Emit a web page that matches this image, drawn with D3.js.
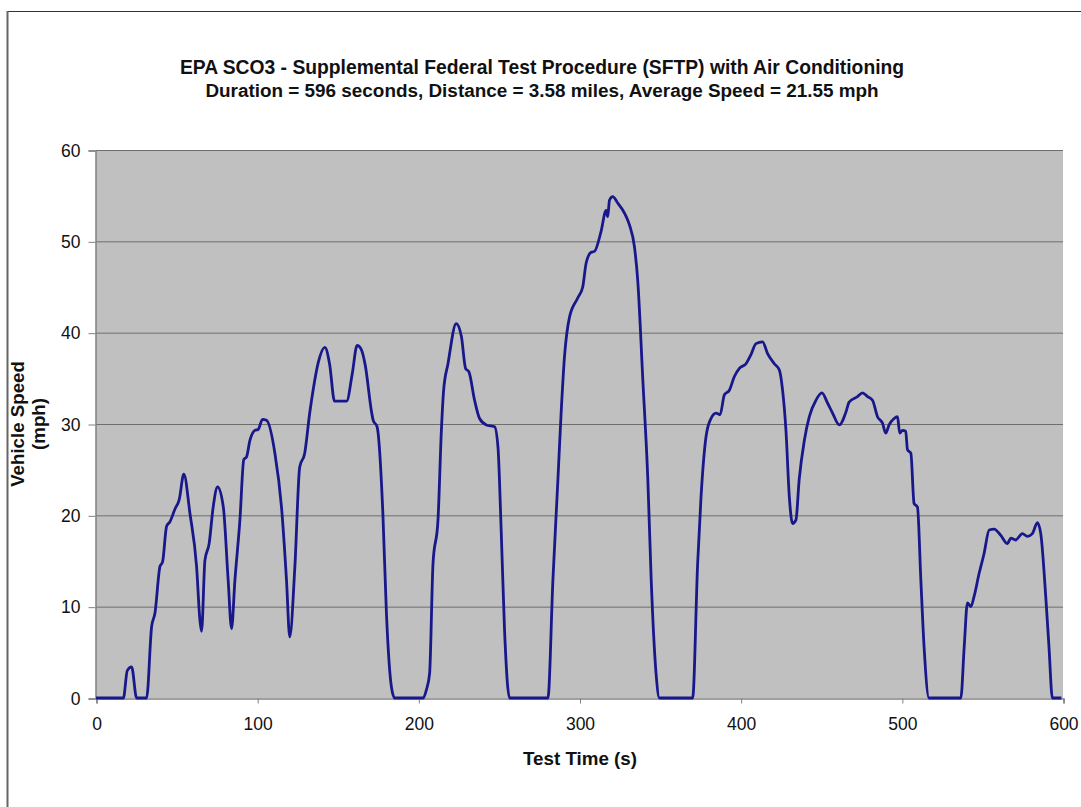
<!DOCTYPE html>
<html>
<head>
<meta charset="utf-8">
<script src="https://cdn.jsdelivr.net/npm/d3@7"></script>
<style>
  body { margin: 0; background: #fff; }
  svg { display: block; font-family: "Liberation Sans", Arial, sans-serif; }
</style>
</head>
<body>
<div id="chart"></div>
<script>
// test time (s) and speed (mph)
const times = [0, 17, 19.4, 22.1, 25.2, 31.4, 34.5, 36.6, 39.7, 41.3, 43.8, 45.9, 49, 51.6, 54.5,
  58.3, 62.4, 64.5, 65.5, 67.6, 70.2, 72.7, 75.4, 79, 82, 84.1, 86.2, 89.3, 91.7, 93.4, 95.5,
  98.6, 100.6, 103.3, 105.8, 111, 115.1, 118.2, 120.2, 123.4, 126.4, 129.5, 132.6, 134.7, 138,
  142, 145, 148, 155.5, 159, 162, 164.5, 167, 171, 172, 174.4, 178, 180.2, 183.3, 185.3,
  203, 205, 207, 209.1, 212.2, 214.3, 215.7, 218.4, 223.5, 226.7, 229.3, 231.4, 234.9, 238,
  242.2, 247.3, 249.4, 251.4, 253.5, 256.6,
  280.4, 283.5, 286.6, 288.6, 290.7, 293.8, 298.9, 302, 304.1, 307.2, 309.3, 313.4, 316.5, 317.5,
  318.6, 320.6, 323.7, 327.9, 331, 334.1, 336.1, 339.3, 342.4, 344.5, 347.5, 349.6,
  370.2, 373.3, 375.4, 378.5, 381.6, 384.7, 387.2, 389.9, 393, 396.1, 399.2, 403.3, 406.4,
  409.5, 413.6, 416.7, 420.9, 424, 426, 428.1, 430.2, 432.2, 434.3, 436.3, 439.5, 442.6,
  446.7, 450.4, 453.9, 457, 461.2, 465.3, 467.3, 472.5, 475.6, 478.7, 481.8, 484.9, 488,
  490, 492.1, 495.2, 497.3, 498.7, 500.4, 502.4, 503.5, 505.6, 507.6, 509.7, 511.8, 513.8,
  516.9, 536.6, 538.7, 540.7, 542.8, 544.8, 547.9, 551, 554.2, 557.3, 561.4, 565.5, 567.6,
  570.6, 574.8, 577.9, 581, 584.1, 586.2, 589.3, 591.3, 593.4, 599];
const speeds = [0, 0, 3.0, 3.4, 0, 0, 7.8, 9.3, 14.4, 14.9, 18.8, 19.3, 20.7, 21.7, 24.5,
  20.2, 14.4, 8.5, 7.3, 15.1, 16.9, 20.9, 23.1, 20.9, 12.9, 7.6, 12.9, 19.5, 26.1, 26.4, 28.2,
  29.3, 29.4, 30.5, 30.4, 26.8, 20.9, 12.9, 6.7, 14.4, 25.3, 26.8, 31.2, 33.7, 36.8,
  38.4, 36.5, 32.5, 32.5, 35.5, 38.6, 38.2, 36.5, 31.3, 30.4, 29.7, 20.2, 9.3, 1.2, 0,
  0, 0.9, 2.7, 14.7, 19.5, 29.3, 33.7, 36.6, 41.0, 39.6, 36.1, 35.7, 32.6, 30.6,
  29.9, 29.7, 27.5, 18.4, 7.4, 0,
  0, 12.9, 23.9, 31.2, 37.4, 41.7, 43.8, 45.0, 47.6, 48.8, 48.9, 51.1, 53.4, 52.7,
  54.5, 54.9, 54.2, 53.1, 51.8, 49.4, 45.8, 34.8, 23.9, 12.9, 2.7, 0,
  0, 14.7, 22.0, 28.6, 30.6, 31.2, 31.0, 33.2, 33.7, 35.2, 36.1, 36.6, 37.6,
  38.8, 39.0, 37.7, 36.6, 35.9, 33.7, 29.3, 22.0, 19.1, 19.5, 23.9, 28.2, 30.8,
  32.6, 33.4, 32.3, 31.2, 29.9, 31.3, 32.4, 33.0, 33.4, 33.0, 32.6, 30.8, 30.1,
  29.0, 29.9, 30.6, 30.8, 29.0, 29.3, 29.2, 27.2, 26.8, 21.3, 20.9, 12.9, 5.6,
  0, 0, 5.6, 10.4, 10.0, 11.1, 13.6, 15.8, 18.4, 18.5, 17.8, 16.9, 17.5,
  17.3, 18.0, 17.7, 18.0, 19.2, 18.0, 11.1, 5.6, 0, 0];

const xTicks = [0, 100, 200, 300, 400, 500, 600];
const yTicks = [0, 10, 20, 30, 40, 50, 60];

const width = 1081, height = 807;
const margin = { top: 150, right: 18, bottom: 109, left: 96 };

const svg = d3.select("#chart").append("svg")
  .attr("width", width)
  .attr("height", height);

// outer frame (left + top edges show)
svg.append("line")
  .attr("x1", 7.5).attr("x2", width).attr("y1", 11.5).attr("y2", 11.5)
  .attr("stroke", "#333").attr("stroke-width", 1);
svg.append("line")
  .attr("x1", 7.5).attr("x2", 7.5).attr("y1", 11).attr("y2", height)
  .attr("stroke", "#666").attr("stroke-width", 2);

const x = d3.scaleLinear().domain([0, 600]).range([margin.left, width - margin.right]);
const y = d3.scaleLinear().domain([0, 60]).range([height - margin.bottom, margin.top]);

// plot area
svg.append("rect")
  .attr("x", x(0)).attr("y", y(60))
  .attr("width", x(600) - x(0)).attr("height", y(0) - y(60))
  .attr("fill", "#c0c0c0");

// grid lines
svg.append("g")
  .selectAll("line")
  .data(yTicks.filter(d => d > 0))
  .enter()
  .append("line")
  .attr("x1", x(0)).attr("x2", x(600))
  .attr("y1", d => y(d) + 0.5).attr("y2", d => y(d) + 0.5)
  .attr("stroke", "#6e6e6e")
  .attr("stroke-width", 1);

// axes
const yAxis = svg.append("g")
  .attr("transform", `translate(${x(0) - 0.5},0.5)`)
  .call(d3.axisLeft(y).tickValues(yTicks).tickSize(7).tickPadding(8));
yAxis.select(".domain").attr("stroke", "#808080").attr("stroke-width", 1.5);
yAxis.selectAll(".tick line").attr("stroke", "#808080");
yAxis.selectAll("text").attr("fill", "#111").style("font-size", "17.5px");

const xAxis = svg.append("g")
  .attr("transform", `translate(0.5,${y(0) + 0.5})`)
  .call(d3.axisBottom(x).tickValues(xTicks).tickSize(5).tickPadding(14));
xAxis.select(".domain").attr("stroke", "#808080").attr("stroke-width", 1.5);
xAxis.selectAll(".tick line").attr("stroke", "#808080");
xAxis.selectAll("text").attr("fill", "#111").style("font-size", "17.5px");

// speed trace
const pts = times.map((t, i) => [t, speeds[i]]);
svg.append("path")
  .datum(pts)
  .attr("fill", "none")
  .attr("stroke", "#18188a")
  .attr("stroke-width", 2.8)
  .attr("stroke-linejoin", "round")
  .attr("d", d3.line().x(d => x(d[0])).y(d => y(d[1])).curve(d3.curveMonotoneX));

// titles
svg.append("text")
  .attr("x", 542).attr("y", 74)
  .attr("text-anchor", "middle")
  .style("font-size", "19.3px").style("font-weight", "bold").attr("fill", "#111")
  .text("EPA SCO3 - Supplemental Federal Test Procedure (SFTP) with Air Conditioning");
svg.append("text")
  .attr("x", 542).attr("y", 97)
  .attr("text-anchor", "middle")
  .style("font-size", "18.9px").style("font-weight", "bold").attr("fill", "#111")
  .text("Duration = 596 seconds, Distance = 3.58 miles, Average Speed = 21.55 mph");

svg.append("text")
  .attr("x", 580).attr("y", 765)
  .attr("text-anchor", "middle")
  .style("font-size", "18.8px").style("font-weight", "bold").attr("fill", "#111")
  .text("Test Time (s)");

const yl = svg.append("text")
  .attr("transform", "translate(24,424) rotate(-90)")
  .attr("text-anchor", "middle")
  .style("font-size", "18.7px").style("font-weight", "bold").attr("fill", "#111");
yl.append("tspan").attr("x", 0).attr("y", 0).text("Vehicle Speed");
yl.append("tspan").attr("x", 0).attr("y", 21).text("(mph)");
</script>
</body>
</html>
